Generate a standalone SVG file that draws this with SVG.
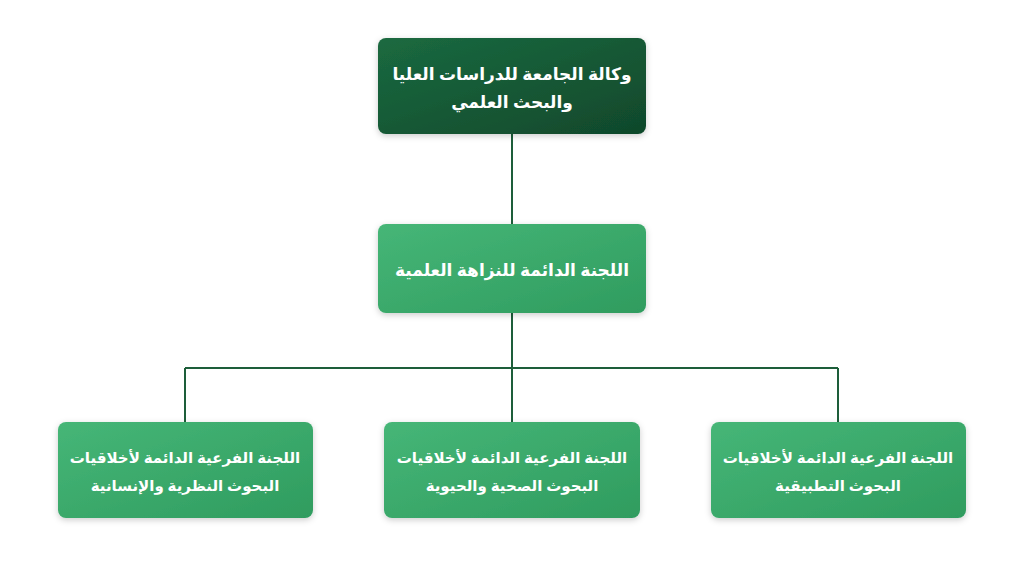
<svg xmlns="http://www.w3.org/2000/svg" width="1024" height="576" viewBox="0 0 1024 576">
<defs>
<linearGradient id="dk" x1="0" y1="0" x2="1" y2="1"><stop offset="0" stop-color="#1b6a40"/><stop offset="1" stop-color="#10482b"/></linearGradient>
<linearGradient id="lt" x1="0" y1="0" x2="1" y2="1"><stop offset="0" stop-color="#46b677"/><stop offset="1" stop-color="#2f9c5f"/></linearGradient>
<filter id="sh" x="-10%" y="-10%" width="120%" height="130%"><feDropShadow dx="0" dy="2" stdDeviation="3" flood-color="#000" flood-opacity="0.2"/></filter>
</defs>
<style>
.t{font-family:"Noto Sans","DejaVu Sans",sans-serif;font-weight:bold;fill:#fff;text-anchor:middle}
.c{stroke:#1d5e3a;stroke-width:2;fill:none}
</style>
<rect width="1024" height="576" fill="#fff"/>
<g id="connectors">
<path class="c" d="M512 134V224M512 313V422M185 368H838M185 368V422M838 368V422"/>
</g>
<g id="n1"><rect x="378" y="38" width="268" height="96" rx="8" fill="url(#dk)" filter="url(#sh)"/>
<text class="t" x="512" y="80" font-size="17" direction="rtl">وكالة الجامعة للدراسات العليا</text>
<text class="t" x="512" y="108" font-size="17" direction="rtl">والبحث العلمي</text></g>
<g id="n2"><rect x="378" y="224" width="268" height="89" rx="8" fill="url(#lt)" filter="url(#sh)"/>
<text class="t" x="512" y="276" font-size="17" direction="rtl">اللجنة الدائمة للنزاهة العلمية</text></g>
<g id="n3"><rect x="58" y="422" width="255" height="96" rx="8" fill="url(#lt)" filter="url(#sh)"/>
<text class="t" x="185" y="463" font-size="15" direction="rtl">اللجنة الفرعية الدائمة لأخلاقيات</text>
<text class="t" x="185" y="491" font-size="15" direction="rtl">البحوث النظرية والإنسانية</text></g>
<g id="n4"><rect x="384" y="422" width="256" height="96" rx="8" fill="url(#lt)" filter="url(#sh)"/>
<text class="t" x="512" y="463" font-size="15" direction="rtl">اللجنة الفرعية الدائمة لأخلاقيات</text>
<text class="t" x="512" y="491" font-size="15" direction="rtl">البحوث الصحية والحيوية</text></g>
<g id="n5"><rect x="711" y="422" width="255" height="96" rx="8" fill="url(#lt)" filter="url(#sh)"/>
<text class="t" x="838" y="463" font-size="15" direction="rtl">اللجنة الفرعية الدائمة لأخلاقيات</text>
<text class="t" x="838" y="491" font-size="15" direction="rtl">البحوث التطبيقية</text></g>
</svg>
